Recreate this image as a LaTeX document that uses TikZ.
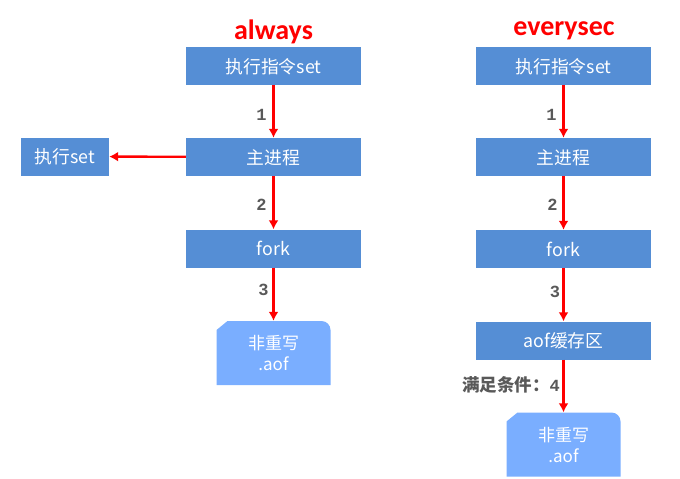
\documentclass[tikz,border=0pt]{standalone}
\usepackage{fontspec}
\setmainfont{Noto Sans CJK SC}
\newfontfamily\titlefont{Carlito}
\newfontfamily\numfont{Liberation Mono}
\newfontfamily\condfont{Noto Sans CJK SC Bold}
\usepackage{xcolor}
\usetikzlibrary{arrows.meta, positioning, calc}
\definecolor{boxblue}{HTML}{558ED5}
\definecolor{noteblue}{HTML}{7AAEFF}
\definecolor{numgray}{HTML}{595959}
\tikzset{
    step_box/.style={fill=boxblue, text=white, minimum width=175pt, minimum height=38pt, inner sep=0pt, text height=16pt, text depth=2pt, font=\fontsize{17.8}{17.8}\selectfont},
    small_box/.style={step_box, minimum width=88pt},
    note_box/.style={text=white, minimum width=114pt, minimum height=64pt, inner sep=0pt, align=center, font=\fontsize{17}{21}\selectfont,
        path picture={
            \fill[noteblue] ($(path picture bounding box.south east)$) [rounded corners=9pt] -- ($(path picture bounding box.north east)$) [sharp corners] -- ($(path picture bounding box.north west)+(11pt,0)$) -- ($(path picture bounding box.north west)+(0,-9pt)$) -- ($(path picture bounding box.south west)$) -- cycle;
        }},
    title_text/.style={text=red, inner sep=0pt, font=\titlefont\bfseries\fontsize{28}{28}\selectfont},
    num_label/.style={text=numgray, inner sep=0pt, font=\numfont\bfseries\fontsize{17}{17}\selectfont},
    flow_arrow/.style={draw=red, line width=2.4pt, -{Latex[length=9pt, width=10pt]}}
}

\begin{document}
\begin{tikzpicture}[x=1pt, y=-1pt]
    \useasboundingbox (0,0) rectangle (680,479);
    % always
    \node[title_text] (always) at (273.5,32) {always};
    \node[step_box] (a_cmd) at (273.5,66) {执行指令set};
    \node[step_box] (a_main) at (273.5,157) {主进程};
    \node[step_box] (a_fork) at (273.5,248.5) {fork};
    \node[note_box] (a_aof) at (273.5,353) {非重写\\.aof};
    \node[small_box] (a_exec) at (65,156.5) {执行set};
    \draw[flow_arrow] (a_main) -- (a_exec);
    \draw[flow_arrow] (a_cmd) -- (a_main);
    \draw[flow_arrow] (a_main) -- (a_fork);
    \draw[flow_arrow] (a_fork) -- (a_aof);
    \node[num_label] (a_one) at (261.5,115) {1};
    \node[num_label] (a_two) at (261.5,205) {2};
    \node[num_label] (a_three) at (263.5,290) {3};
    % everysec
    \node[title_text] (everysec) at (564,31) {everysec};
    \node[step_box] (e_cmd) at (563.5,66) {执行指令set};
    \node[step_box] (e_main) at (563.5,157) {主进程};
    \node[step_box] (e_fork) at (563.5,249) {fork};
    \node[step_box] (e_buf) at (563.5,340.5) {aof缓存区};
    \node[note_box] (e_aof) at (563.5,444.5) {非重写\\.aof};
    \draw[flow_arrow] (e_cmd) -- (e_main);
    \draw[flow_arrow] (e_main) -- (e_fork);
    \draw[flow_arrow] (e_fork) -- (e_buf);
    \draw[flow_arrow] (e_buf) -- (e_aof);
    \node[num_label] (e_one) at (551.5,115) {1};
    \node[num_label] (e_two) at (552.5,205) {2};
    \node[num_label] (e_three) at (555,292) {3};
    \node[num_label, anchor=east] (e_four) at (560,385) {{\condfont\fontsize{17.5}{17.5}\selectfont 满足条件：}4};
\end{tikzpicture}
\end{document}
